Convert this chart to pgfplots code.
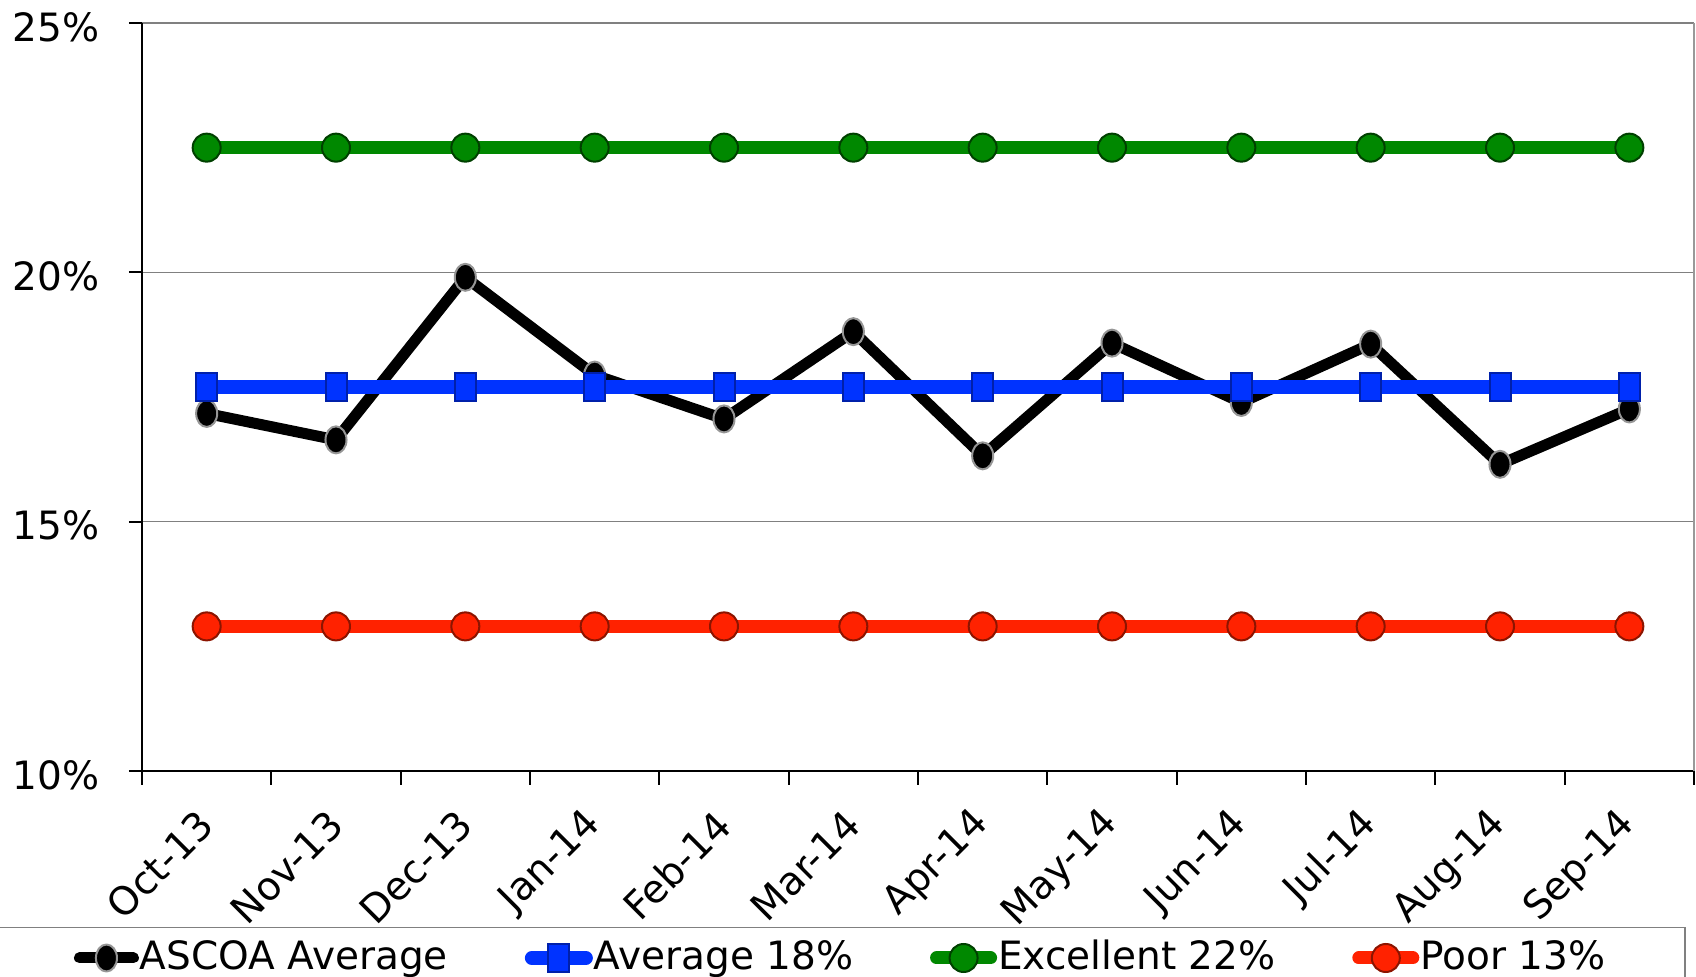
\documentclass[border=0pt]{standalone}
\usepackage{pgfplots}
\pgfplotsset{compat=1.18}
\usepackage{fontspec}
\setmainfont{DejaVu Sans}

\definecolor{ascoa}{RGB}{0,0,0}
\definecolor{ascoaedge}{RGB}{150,150,150}
\definecolor{avgblue}{RGB}{0,51,255}
\definecolor{avgedge}{RGB}{0,32,170}
\definecolor{exgreen}{RGB}{0,136,0}
\definecolor{exedge}{RGB}{0,64,0}
\definecolor{poorred}{RGB}{255,34,0}
\definecolor{pooredge}{RGB}{140,20,0}
\definecolor{gridgray}{RGB}{128,128,128}
\definecolor{framegray}{RGB}{153,153,153}

% monthly ASCOA average, in percent
\pgfplotstableread{
x  y
0  17.17
1  16.64
2  19.90
3  17.94
4  17.06
5  18.81
6  16.32
7  18.58
8  17.39
9  18.56
10 16.15
11 17.26
}\ascoa

\begin{document}
\fontsize{19.5}{23}\selectfont
\begin{tikzpicture}
\useasboundingbox (-71pt,-103pt) rectangle (777pt,385.5pt);
\clip (-71pt,-103pt) rectangle (777pt,385.5pt);
\begin{axis}[
  at={(0,0)}, anchor=south west,
  scale only axis, width=776pt, height=374pt,
  xmin=-0.5, xmax=11.5, ymin=10, ymax=25,
  axis x line*=bottom, axis y line*=left,
  axis line style={-, black, line width=1pt},
  ytick={10,15,20,25},
  yticklabel={\pgfmathprintnumber{\tick}\%},
  ymajorgrids, grid style={gridgray, line width=0.75pt},
  xtick={0,...,11},
  xticklabels={Oct-13,Nov-13,Dec-13,Jan-14,Feb-14,Mar-14,Apr-14,May-14,Jun-14,Jul-14,Aug-14,Sep-14},
  minor xtick={-0.5,0.5,...,11.5},
  major x tick style={draw=none},
  tick align=outside,
  major tick length=6.5pt, minor tick length=7pt,
  tick style={black, line width=1pt},
  /pgf/number format/assume math mode=true,
  yticklabel style={anchor=east, inner sep=0pt, xshift=-14.5pt, yshift=-2pt},
  xticklabel style={yshift=-17pt, rotate=45, anchor=east, inner sep=0pt},
  clip=false,
  legend columns=4,
  legend style={draw=none, fill=none, inner sep=0pt,
    at={(axis description cs:-0.0441,-0.25)}, anchor=west,
    nodes={inner sep=0.5pt},
    /tikz/every even column/.append style={column sep=38pt}},
  legend image code/.code={
    \draw[#1, line cap=round, mark repeat=2, mark phase=2]
      plot coordinates {(0pt,0pt) (13.5pt,0pt) (27pt,0pt)};
  },
]
\addplot[ascoa, line width=5.5pt, line join=round,
  mark=*, mark size=6.75pt,
  mark options={fill=ascoa, draw=ascoaedge, line width=1pt, xscale=0.78}]
  table[x=x, y=y] {\ascoa};
\addlegendentry{ASCOA Average}

\addplot[avgblue, line width=7pt,
  mark=square*, mark size=7pt,
  mark options={fill=avgblue, draw=avgedge, line width=1pt, xscale=0.75}]
  coordinates {(0,17.7) (1,17.7) (2,17.7) (3,17.7) (4,17.7) (5,17.7)
               (6,17.7) (7,17.7) (8,17.7) (9,17.7) (10,17.7) (11,17.7)};
\addlegendentry{Average 18\%}

\addplot[exgreen, line width=6.5pt,
  mark=*, mark size=7pt,
  mark options={fill=exgreen, draw=exedge, line width=1pt}]
  coordinates {(0,22.5) (1,22.5) (2,22.5) (3,22.5) (4,22.5) (5,22.5)
               (6,22.5) (7,22.5) (8,22.5) (9,22.5) (10,22.5) (11,22.5)};
\addlegendentry{Excellent 22\%}

\addplot[poorred, line width=6.5pt,
  mark=*, mark size=7pt,
  mark options={fill=poorred, draw=pooredge, line width=1pt}]
  coordinates {(0,12.9) (1,12.9) (2,12.9) (3,12.9) (4,12.9) (5,12.9)
               (6,12.9) (7,12.9) (8,12.9) (9,12.9) (10,12.9) (11,12.9)};
\addlegendentry{Poor 13\%}

% right border of the plot area
\draw[framegray, line width=1pt] (rel axis cs:1,0) -- (rel axis cs:1,1);
\end{axis}
% legend frame
\draw[gridgray, line width=0.75pt] (-75pt,-78.3pt) rectangle (771.5pt,-130pt);
\end{tikzpicture}
\end{document}
